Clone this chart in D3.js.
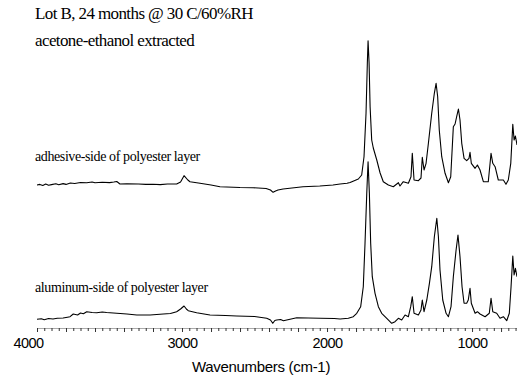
<!DOCTYPE html>
<html><head><meta charset="utf-8">
<script src="https://cdn.jsdelivr.net/npm/d3@7"></script>
<style>body{margin:0;background:#fff} svg{display:block}</style>
</head><body>
<script>
const titleLines = ["Lot B, 24 months @ 30 C/60%RH", "acetone-ethanol extracted"];
const seriesNames = ["adhesive-side of polyester layer", "aluminum-side of polyester layer"];
const seriesOffsets = [1.37, 0];
const xTickValues = [4000, 3000, 2000, 1000];
const xTitle = "Wavenumbers (cm-1)";

const wnAdhesive = [4000,3980,3960,3940,3920,3900,3870,3850,3820,3800,3770,3740,3700,3657,3620,3600,3550,3500,3470,3450,3428,3380,3300,3250,3200,3150,3100,3037,3010,2986,2960,2945,2876,2800,2738,2600,2510,2420,2390,2372,2355,2338,2303,2166,2050,1959,1910,1862,1841,1784,1761,1745,1731,1722,1717,1710,1703,1692,1681,1657,1634,1612,1577,1543,1508,1497,1474,1439,1421,1412,1400,1370,1352,1343,1331,1317,1301,1278,1260,1248,1237,1226,1209,1186,1163,1147,1129,1117,1106,1094,1083,1071,1055,1037,1021,1014,1005,979,963,945,922,888,869,857,841,819,784,766,750,733,719,710,701,690];
const absAdhesive = [0.06,0.066,0.056,0.07,0.058,0.064,0.072,0.062,0.074,0.066,0.08,0.075,0.085,0.083,0.09,0.082,0.087,0.084,0.09,0.095,0.07,0.072,0.07,0.066,0.068,0.064,0.07,0.07,0.09,0.153,0.11,0.093,0.077,0.06,0.043,0.035,0.033,0.025,0.01,-0.013,0.0,0.01,0.02,0.043,0.05,0.06,0.07,0.077,0.085,0.12,0.16,0.343,0.78,1.28,1.503,1.28,0.843,0.51,0.43,0.31,0.18,0.093,0.06,0.043,0.083,0.05,0.093,0.077,0.143,0.377,0.11,0.103,0.13,0.337,0.21,0.277,0.477,0.777,0.977,1.077,0.943,0.61,0.343,0.177,0.083,0.143,0.643,0.67,0.743,0.82,0.71,0.477,0.327,0.303,0.327,0.387,0.277,0.227,0.26,0.21,0.093,0.093,0.377,0.277,0.243,0.11,0.11,0.067,0.11,0.277,0.667,0.51,0.55,0.46];

const wnAluminum = [4000,3970,3950,3920,3890,3860,3820,3790,3772,3750,3720,3700,3680,3657,3620,3588,3550,3520,3450,3380,3312,3220,3129,3080,3037,3010,2986,2970,2957,2899,2807,2700,2623,2500,2416,2390,2374,2360,2347,2320,2301,2209,2130,2048,1950,1910,1853,1819,1795,1768,1750,1738,1726,1717,1708,1699,1688,1669,1646,1623,1588,1554,1531,1508,1485,1462,1439,1423,1412,1400,1370,1352,1343,1331,1312,1294,1278,1260,1243,1232,1221,1202,1179,1163,1145,1129,1110,1097,1083,1069,1055,1037,1026,1014,1005,979,963,945,910,881,869,857,830,807,784,761,743,731,719,710,701,690];
const absAluminum = [0.087,0.093,0.083,0.095,0.09,0.098,0.1,0.108,0.113,0.14,0.13,0.15,0.142,0.163,0.155,0.153,0.16,0.155,0.147,0.14,0.13,0.13,0.14,0.145,0.163,0.19,0.22,0.19,0.173,0.153,0.13,0.125,0.12,0.115,0.097,0.08,0.047,0.075,0.08,0.085,0.073,0.103,0.1,0.097,0.095,0.09,0.097,0.113,0.147,0.213,0.413,0.847,1.347,1.663,1.347,0.847,0.513,0.347,0.213,0.147,0.097,0.047,0.063,0.097,0.08,0.13,0.113,0.213,0.313,0.147,0.13,0.18,0.28,0.163,0.28,0.447,0.613,0.913,1.097,0.913,0.58,0.28,0.147,0.113,0.213,0.513,0.78,0.93,0.713,0.413,0.247,0.247,0.28,0.397,0.247,0.147,0.163,0.14,0.113,0.147,0.297,0.163,0.147,0.097,0.113,0.073,0.147,0.413,0.72,0.53,0.597,0.513];

const W = 517, H = 377;
const svg = d3.select("body").append("svg").attr("width", W).attr("height", H);

const x = d3.scaleLinear().domain([4000, 690]).range([37, 517]);
const y = d3.scaleLinear().domain([0, 3]).range([328, 28]);

const series = [
  {name: seriesNames[0], wn: wnAdhesive, a: absAdhesive, off: seriesOffsets[0]},
  {name: seriesNames[1], wn: wnAluminum, a: absAluminum, off: seriesOffsets[1]}
];

const line = d3.line().x(d => x(d[0])).y(d => y(d[1]));
series.forEach(s => {
  const pts = s.wn.map((w, i) => [w, s.a[i] + s.off]);
  svg.append("path").attr("d", line(pts)).attr("fill", "none")
    .attr("stroke", "#000").attr("stroke-width", 1.1).attr("stroke-linejoin", "round");
});

// titles
const serif = "'Liberation Serif', 'Times New Roman', serif";
svg.selectAll("text.title").data(titleLines).enter().append("text")
  .attr("class", "title").attr("x", 35).attr("y", (d, i) => 19 + i * 27)
  .attr("font-family", serif).attr("font-size", 17).attr("letter-spacing", -0.6)
  .text(d => d);

// series labels
svg.selectAll("text.slab").data(series).enter().append("text")
  .attr("class", "slab").attr("x", 35).attr("y", (d, i) => i === 0 ? 161 : 292)
  .attr("font-family", serif).attr("font-size", 14).attr("letter-spacing", -0.4)
  .text(d => d.name);

// axis with minor ticks
const minor = d3.range(700, 4001, 50);
const gMinor = svg.append("g").attr("transform", `translate(0,${y(0)})`)
  .call(d3.axisBottom(x).tickValues(minor).tickSizeInner(3).tickSizeOuter(0).tickFormat(""));
gMinor.select(".domain").attr("stroke", "#aaa");
gMinor.selectAll(".tick line").attr("stroke", "#333")
  .attr("y2", d => d % 200 === 0 ? 4 : 3);

const gMajor = svg.append("g").attr("transform", `translate(0,${y(0)})`)
  .call(d3.axisBottom(x).tickValues(xTickValues).tickSize(0).tickPadding(10).tickFormat(d3.format("d")));
gMajor.select(".domain").remove();
gMajor.selectAll(".tick text").attr("font-family", "'Liberation Sans', Arial, sans-serif")
  .attr("font-size", 14.5).attr("letter-spacing", -0.6).attr("fill", "#000")
  .attr("dx", d => d === 4000 ? -9 : 0);

svg.append("text").attr("x", 261).attr("y", 372).attr("text-anchor", "middle")
  .attr("font-family", "'Liberation Sans', Arial, sans-serif").attr("font-size", 15)
  .attr("letter-spacing", -0.3).text(xTitle);
</script>
</body></html>
